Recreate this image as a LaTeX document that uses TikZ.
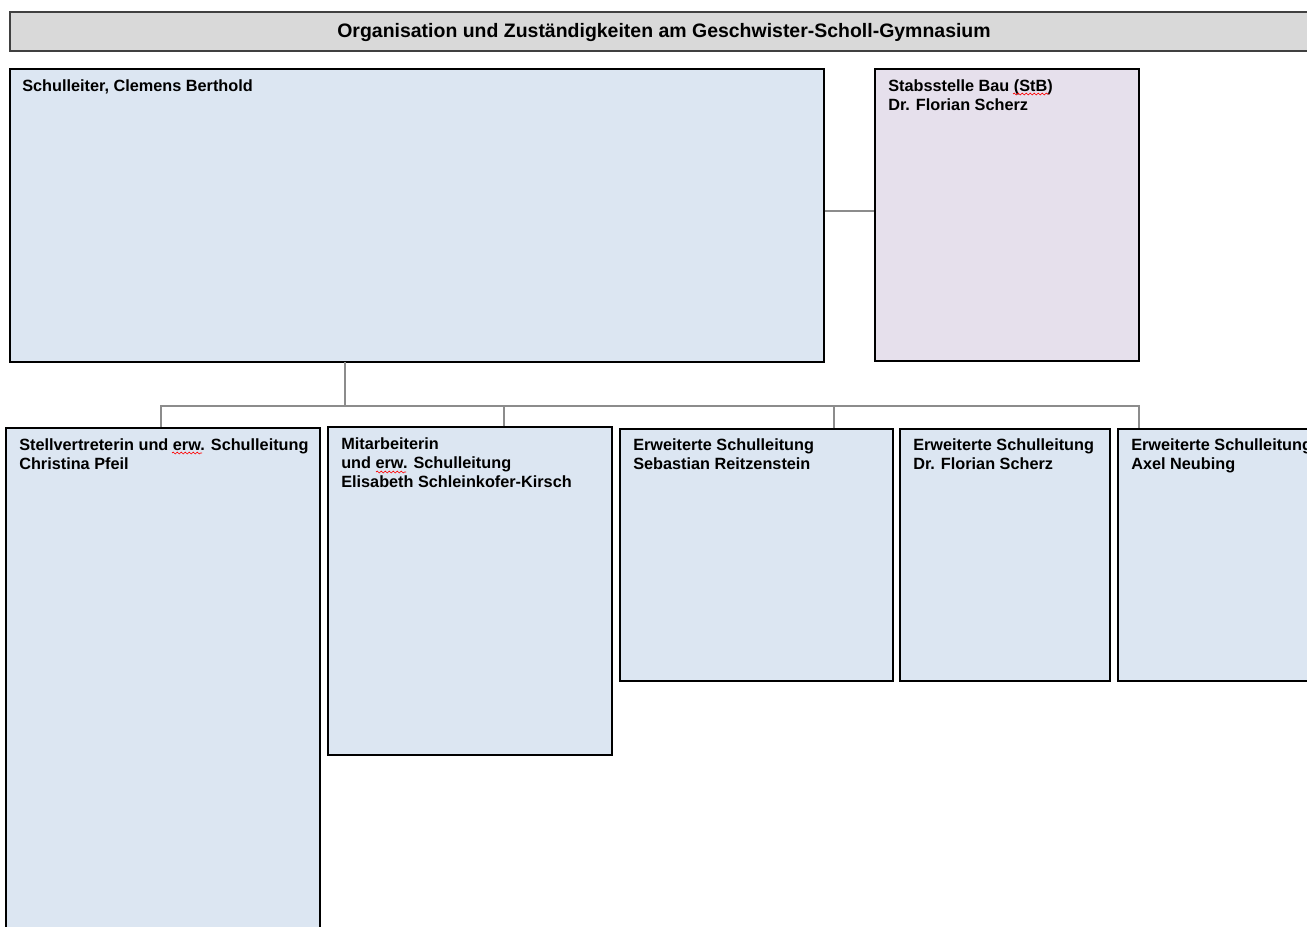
\documentclass[tikz,border=0pt]{standalone}
\usepackage{fontspec}
\setmainfont{Liberation Sans}
\usetikzlibrary{fit,decorations.pathmorphing}
\definecolor{boxblue}{HTML}{DCE6F2}
\definecolor{boxlila}{HTML}{E6E0EC}
\definecolor{titlegray}{HTML}{D9D9D9}
\definecolor{conngray}{HTML}{8C8C8C}
\newcommand{\lines}[1]{\begin{tabular}[t]{@{}l@{}}#1\end{tabular}}
\tikzset{
  box/.style={draw=black, line width=0.9pt, fill=boxblue, inner sep=0pt},
  stabbox/.style={box, fill=boxlila},
  titlebox/.style={draw=black!75, line width=0.9pt, fill=titlegray, inner sep=0pt},
  lbl/.style={anchor=base west, inner sep=0pt, font=\fontsize{12.2}{14.25}\selectfont\bfseries},
  conn/.style={draw=conngray, line width=1.5pt},
  squiggle/.style={draw=red, line width=0.5pt, decorate, decoration={snake, amplitude=0.7pt, segment length=3pt}}
}
\begin{document}
\begin{tikzpicture}[x=0.75pt,y=-0.75pt]
\useasboundingbox (0,0) rectangle (1307,926);
\clip (0,0) rectangle (1307,926);
% title
\node[titlebox, fit={(10,12) (1318,51)}] (title) {};
\node[font=\fontsize{14.6}{17}\selectfont\bfseries, anchor=base, inner sep=0pt] (ttitle) at (664,37) {Organisation und Zuständigkeiten am Geschwister-Scholl-Gymnasium};
% boxes
\node[box, fit={(10,69) (824,362)}] (sl) {};
\node[stabbox, fit={(875,69) (1139,361)}] (stab) {};
\node[box, fit={(6,428) (320,940)}] (stv) {};
\node[box, fit={(328,427) (612,755)}] (mit) {};
\node[box, fit={(620,429) (893,681)}] (seb) {};
\node[box, fit={(900,429) (1110,681)}] (flo) {};
\node[box, fit={(1118,429) (1330,681)}] (axel) {};
% labels
\node[lbl] (tsl) at (22,91) {\lines{Schulleiter, Clemens Berthold}};
\node[lbl] (tstab) at (888,91) {\lines{Stabsstelle Bau (StB)\\Dr. Florian Scherz}};
\node[lbl] (tstv) at (19,450) {\lines{Stellvertreterin und erw. Schulleitung\\Christina Pfeil}};
\node[lbl] (tmit) at (341,449) {\lines{Mitarbeiterin\\und erw. Schulleitung\\Elisabeth Schleinkofer-Kirsch}};
\node[lbl] (tseb) at (633,450) {\lines{Erweiterte Schulleitung\\Sebastian Reitzenstein}};
\node[lbl] (tflo) at (913,450) {\lines{Erweiterte Schulleitung\\Dr. Florian Scherz}};
\node[lbl] (taxel) at (1131,450) {\lines{Erweiterte Schulleitung\\Axel Neubing}};
% spell-check squiggles
\draw[squiggle] (1013,94) -- (1049,94);
\draw[squiggle] (172,453) -- (202,453);
\draw[squiggle] (376,472) -- (406,472);
% connectors
\coordinate (slout) at (345,362);
\coordinate (busL) at (161,406);
\coordinate (busR) at (1139,406);
\coordinate (sideY) at (0,211);
\draw[conn] (sl.east |- sideY) -- (stab.west |- sideY);
\draw[conn] (slout) -- (slout |- busL);
\draw[conn] (stv.north -| busL) -- (busL) -- (busR) -- (axel.north -| busR);
\draw[conn] (mit.north -| 504,0) -- (504,406);
\draw[conn] (seb.north -| 834,0) -- (834,406);
\end{tikzpicture}
\end{document}
